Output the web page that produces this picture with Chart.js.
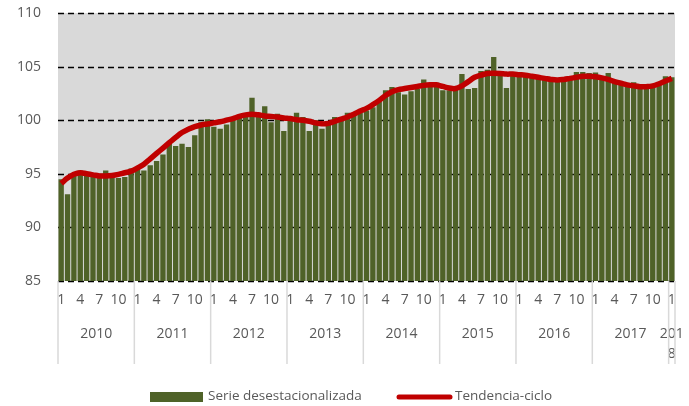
<!DOCTYPE html>
<html>
<head>
<meta charset="utf-8">
<script src="https://cdn.jsdelivr.net/npm/chart.js@4"></script>
<style>
  html, body { margin: 0; padding: 0; background: #fff; }
  #wrap { width: 689px; height: 406px; position: relative; }
</style>
</head>
<body>
<div id="wrap"><canvas id="chart"></canvas></div>
<script>
  const years = [2010, 2011, 2012, 2013, 2014, 2015, 2016, 2017, 2018];
  const monthTicks = [1, 4, 7, 10];
  const yTicks = [85, 90, 95, 100, 105, 110];

  // seasonally adjusted series, Jan 2010 .. Jan 2018
  const serie = [
    94.5, 93.1, 95.0, 95.3, 94.8, 94.7, 94.6, 95.3, 94.8, 94.6, 94.7, 95.5,
    95.6, 95.3, 95.8, 96.2, 96.8, 97.9, 97.6, 97.8, 97.5, 98.6, 99.8, 100.1,
    99.4, 99.2, 99.6, 100.3, 100.4, 100.5, 102.1, 100.4, 101.3, 99.8, 100.6, 99.0,
    100.0, 100.7, 100.3, 99.0, 100.0, 99.2, 99.9, 100.3, 100.3, 100.7, 100.5, 100.7,
    100.9, 101.2, 101.8, 102.8, 103.1, 102.6, 102.4, 102.7, 102.9, 103.8, 103.3, 103.5,
    102.8, 102.8, 102.9, 104.3, 102.9, 103.0, 104.6, 104.7, 105.9, 104.4, 103.0, 104.2,
    104.5, 104.3, 104.1, 104.0, 103.8, 103.8, 103.8, 103.9, 104.0, 104.5, 104.5, 104.4,
    104.45, 104.1, 104.4, 103.7, 103.4, 103.3, 103.55, 103.1, 103.1, 103.15, 103.45, 104.1,
    104.0
  ];

  // trend-cycle
  const tendencia = [
    94.1, 94.6, 94.95, 95.1, 95.0, 94.9, 94.8, 94.8, 94.85, 94.95, 95.1, 95.25,
    95.55, 95.9, 96.4, 96.9, 97.4, 97.9, 98.4, 98.85, 99.15, 99.4, 99.55, 99.65,
    99.75, 99.85, 100.0, 100.15, 100.35, 100.5, 100.55, 100.5, 100.4, 100.35, 100.3, 100.2,
    100.15, 100.05, 100.0, 99.9, 99.75, 99.66, 99.7, 99.9, 100.1, 100.3, 100.55, 100.85,
    101.1, 101.45, 101.85, 102.3, 102.65, 102.85, 102.95, 103.05, 103.15, 103.25, 103.3, 103.3,
    103.15, 103.0, 102.95, 103.2, 103.6, 104.0, 104.2, 104.35, 104.37, 104.35, 104.3, 104.3,
    104.25, 104.2, 104.1, 104.0, 103.9, 103.8, 103.75, 103.8, 103.9, 104.0, 104.1, 104.1,
    104.05, 103.95, 103.8, 103.6, 103.45, 103.3, 103.2, 103.13, 103.13, 103.2, 103.4, 103.65,
    103.9
  ];

  // categories: one per month, last year only has January
  const labels = [];
  const labelYear = [];
  years.forEach(function (y) {
    const n = y === 2018 ? 1 : 12;
    for (let m = 1; m <= n; m++) { labels.push(String(m)); labelYear.push(y); }
  });

  const FONT = "'Open Sans', sans-serif";
  const GREY_TXT = "#595959";
  const GREEN = "#4f6228";
  const RED = "#c00000";

  /* grey plot area + dashed horizontal grid, drawn under the bars */
  const plotBg = {
    id: "plotBg",
    beforeDatasetsDraw: function (chart) {
      const a = chart.chartArea, ctx = chart.ctx, y = chart.scales.y;
      ctx.save();
      ctx.fillStyle = "#d9d9d9";
      ctx.fillRect(a.left, a.top, a.right - a.left, a.bottom - a.top);
      ctx.strokeStyle = "#000";
      ctx.lineWidth = 1.4;
      ctx.setLineDash([6, 4]);
      yTicks.forEach(function (v) {
        const py = Math.round(y.getPixelForValue(v)) + 0.5;
        ctx.beginPath();
        ctx.moveTo(a.left, py);
        ctx.lineTo(a.right, py);
        ctx.stroke();
      });
      ctx.restore();
    }
  };

  /* year groups below the month ticks + separators */
  const yearAxis = {
    id: "yearAxis",
    afterDraw: function (chart) {
      const x = chart.scales.x, a = chart.chartArea, ctx = chart.ctx;
      const half = (x.getPixelForValue(1) - x.getPixelForValue(0)) / 2;
      ctx.save();
      ctx.strokeStyle = "#d9d9d9";
      ctx.lineWidth = 1.5;
      ctx.fillStyle = GREY_TXT;
      ctx.font = "14px " + FONT;
      ctx.textAlign = "center";
      ctx.textBaseline = "middle";
      let start = 0;
      for (let i = 0; i <= labels.length; i++) {
        if (i === labels.length || (i > 0 && labelYear[i] !== labelYear[i - 1])) {
          const xl = x.getPixelForValue(start) - half;
          const xr = x.getPixelForValue(i - 1) + half;
          const cx = (xl + xr) / 2;
          const yr = String(labelYear[start]);
          if (xr - xl > 30) {
            ctx.fillText(yr, cx, a.bottom + 53);
          } else {
            ctx.fillText(yr.slice(0, 3), cx, a.bottom + 53);
            ctx.fillText(yr.slice(3), cx, a.bottom + 73);
          }
          start = i;
        }
      }
      for (let i = 0; i <= labels.length; i++) {
        if (i === 0 || i === labels.length || labelYear[i] !== labelYear[i - 1]) {
          const px = i === labels.length ? x.getPixelForValue(i - 1) + half : x.getPixelForValue(i) - half;
          ctx.beginPath();
          ctx.moveTo(px, a.bottom);
          ctx.lineTo(px, a.bottom + 83);
          ctx.stroke();
        }
      }
      ctx.restore();
    }
  };

  const legendBox = {
    id: "legendBox",
    afterDraw: function (chart) {
      const ctx = chart.ctx;
      ctx.save();
      ctx.font = "13.5px " + FONT;
      ctx.fillStyle = GREEN;
      ctx.fillRect(150, 392, 53, 10);
      ctx.fillStyle = GREY_TXT;
      ctx.textBaseline = "middle";
      ctx.textAlign = "left";
      ctx.fillText("Serie desestacionalizada", 208, 396);
      ctx.strokeStyle = RED;
      ctx.lineWidth = 5;
      ctx.lineCap = "round";
      ctx.beginPath();
      ctx.moveTo(399, 397);
      ctx.lineTo(450, 397);
      ctx.stroke();
      ctx.fillText("Tendencia-ciclo", 455, 396);
      ctx.restore();
    }
  };

  new Chart(document.getElementById("chart"), {
    type: "bar",
    data: {
      labels: labels,
      datasets: [
        {
          type: "line", label: "Tendencia-ciclo", data: tendencia,
          borderColor: RED, borderWidth: 5.5, tension: 0.4,
          pointRadius: 0, fill: false, order: 0
        },
        {
          type: "bar", label: "Serie desestacionalizada", data: serie,
          backgroundColor: GREEN, barPercentage: 0.84, categoryPercentage: 1.0,
          order: 1
        }
      ]
    },
    options: {
      responsive: true,
      maintainAspectRatio: false,
      animation: false,
      layout: { padding: { top: 13, right: 14, left: 0, bottom: 0 } },
      plugins: { legend: { display: false }, tooltip: { enabled: false } },
      scales: {
        x: {
          grid: { display: false, drawTicks: false },
          border: { display: false },
          ticks: {
            autoSkip: false, maxRotation: 0, padding: 11,
            color: GREY_TXT, font: { family: FONT, size: 14 },
            callback: function (v, i) {
              return monthTicks.indexOf(Number(labels[i])) >= 0 ? labels[i] : "";
            }
          },
          afterFit: function (s) { s.height = 125; s.paddingLeft = 0; s.paddingRight = 0; }
        },
        y: {
          min: 85, max: 110,
          afterBuildTicks: function (s) { s.ticks = yTicks.map(function (v) { return { value: v }; }); },
          grid: { display: false, drawTicks: false },
          border: { display: false },
          ticks: { padding: 17, color: GREY_TXT, font: { family: FONT, size: 14 } },
          afterFit: function (s) { s.width = 58; s.paddingTop = 0; s.paddingBottom = 0; }
        }
      }
    },
    plugins: [plotBg, yearAxis, legendBox]
  });
</script>
</body>
</html>
